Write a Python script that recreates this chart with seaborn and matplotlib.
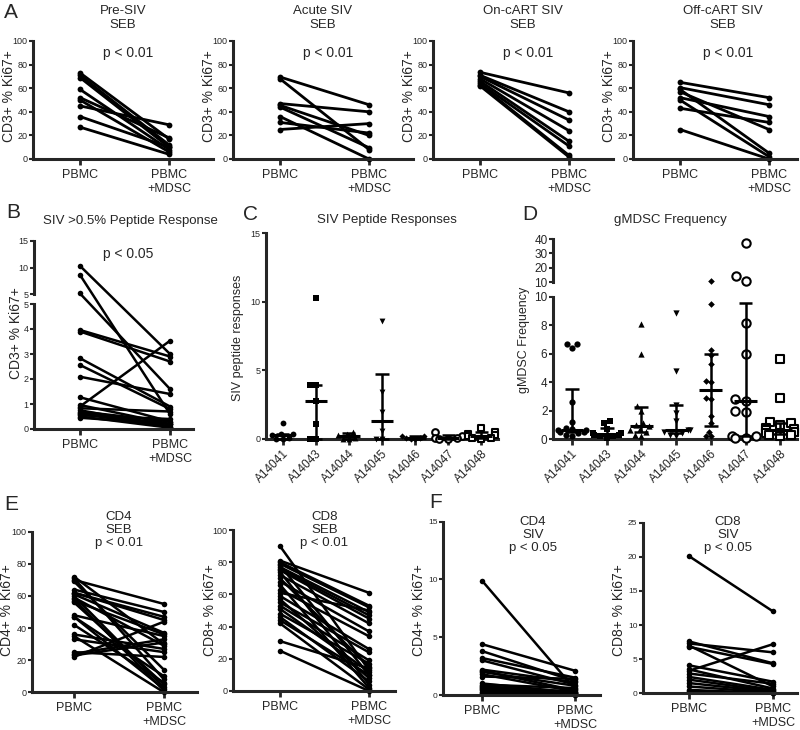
import numpy as np
import pandas as pd
import matplotlib
matplotlib.use("Agg")
import matplotlib.pyplot as plt
import seaborn as sns

# ---------------- data ----------------
cond_labels = ["PBMC", "PBMC\n+MDSC"]

pre_pbmc = [73, 71, 69, 59, 52, 50, 45, 36, 27]
pre_mdsc = [17, 12, 10, 8, 18, 6, 29, 10, 4]
acute_pbmc = [69.5, 68, 47, 45.5, 44, 36, 31, 25]
acute_mdsc = [46, 8, 40, 20, 9.6, 0, 22, 30]
oncart_pbmc = [73.5, 71, 70, 68, 66, 64, 63, 62]
oncart_mdsc = [56, 40, 33, 24, 15, 11, 3, 1.7]
offcart_pbmc = [65, 60.5, 59, 57, 52, 50, 43, 25]
offcart_mdsc = [52, 46, 5, 25, 36, 2, 31, 0]

b_pbmc = [10.3, 8.6, 5.1, 3.96, 3.9, 2.83, 2.56, 2.09, 1.27, 0.96, 0.9, 0.83, 0.75, 0.7, 0.65, 0.6, 0.55, 0.5, 0.45]
b_mdsc = [3.0, 0.6, 1.6, 2.9, 2.7, 0.9, 0.8, 1.4, 0.3, 0.2, 3.53, 0.7, 0.1, 0.3, 0.2, 0.1, 0.4, 0.05, 0.2]

animals = ["A14041", "A14043", "A14044", "A14045", "A14046", "A14047", "A14048"]
animal_markers = ["o", "s", "^", "v", "D", "o", "s"]
animal_sizes = [1.0, 1.0, 1.0, 1.0, 0.75, 1.0, 1.0]
animal_open = [False, False, False, False, False, True, True]

c_A14041 = [1.2, 0.4, 0.4, 0.3, 0.1, 0, 0]
c_A14043 = [10.3, 3.9, 3.9, 2.8, 1.1, 0, 0]
c_A14044 = [0.5, 0.4, 0.3, 0.1, 0, 0]
c_A14045 = [8.6, 3.45, 2.0, 0.6, 0, 0]
c_A14046 = [0.2, 0.2, 0.1, 0.1, 0, 0]
c_A14047 = [0.5, 0.2, 0.1, 0.1, 0, 0]
c_A14048 = [0.8, 0.5, 0.4, 0.3, 0.2, 0.1, 0.1, 0]

d_A14041 = [6.7, 6.4, 6.7, 2.6, 1.2, 0.8, 0.7, 0.6, 0.6, 0.5, 0.5, 0.4, 0.3, 0.2]
d_A14043 = [1.1, 1.3, 0.7, 0.4, 0.4, 0.3, 0.3, 0.2, 0.2, 0.1]
d_A14044 = [8.1, 6.0, 2.3, 2.0, 1.1, 1.0, 0.9, 0.7, 0.6, 0.5, 0.3, 0.2]
d_A14045 = [8.9, 4.8, 2.4, 1.8, 1.3, 0.6, 0.6, 0.5, 0.4, 0.3, 0.2]
d_A14046 = [11, 9.5, 6.3, 5.9, 5.3, 4.1, 4.0, 2.9, 2.8, 1.6, 1.1, 0.5, 0.2, 0.2]
d_A14047 = [37, 14, 11, 8.2, 6.0, 2.8, 2.7, 2.0, 1.9, 0.2, 0.2, 0.1, 0.1]
d_A14048 = [5.6, 2.9, 1.2, 1.1, 1.0, 0.8, 0.7, 0.6, 0.5, 0.5, 0.4, 0.3, 0.3, 0.2]

e_cd4_pbmc = [72, 71, 70, 69, 64, 62, 62, 61, 60, 59, 58, 57, 56, 48, 47, 47, 42, 36, 35, 33, 25, 24, 23, 22]
e_cd4_mdsc = [30, 8, 55, 14, 50, 47, 45, 37, 3, 29, 1, 36, 5, 35, 2, 10, 6, 27, 0, 25, 22, 33, 31, 44]
e_cd8_pbmc = [90, 81, 80, 79, 78, 77, 76, 74, 72, 70, 68, 66, 63, 61, 59, 57, 55, 53, 51, 48, 46, 44, 42, 31, 25, 75]
e_cd8_mdsc = [13, 61, 53, 52, 10, 49, 47, 4, 42, 15, 37, 2, 34, 50, 26, 8, 24, 19, 12, 17, 6, 10, 1, 14, 0, 45]

f_cd4_pbmc = [9.9, 4.4, 3.8, 3.2, 3.0, 2.2, 2.1, 2.0, 1.8, 1.6, 1.0, 0.9, 0.8, 0.7, 0.6, 0.5, 0.4, 0.3, 0.2, 0.1]
f_cd4_mdsc = [0.5, 2.1, 1.2, 1.5, 0.9, 1.1, 0.4, 0.8, 0.3, 1.4, 0.2, 0.6, 0.1, 0.3, 0.1, 0.2, 0.0, 0.1, 0.0, 0.05]
f_cd8_pbmc = [20.1, 7.6, 7.3, 7.0, 6.8, 3.3, 4.1, 3.5, 2.9, 2.4, 2.0, 1.5, 1.0, 0.5, 0.3]
f_cd8_mdsc = [12.0, 4.4, 6.0, 1.0, 4.3, 7.2, 1.7, 0.7, 1.4, 0.5, 0.3, 0.2, 0.1, 0.0, 0.1]

# ---------------- style ----------------
sns.set_style("ticks")
plt.rcParams["font.family"] = ["Liberation Sans", "DejaVu Sans"]

W, H = 800, 730
fig = plt.figure(figsize=(8, 7.3), dpi=100)


def add_ax(left, top, right, bottom):
    return fig.add_axes([left / W, 1 - bottom / H, (right - left) / W, (bottom - top) / H])


def ftext(x, y, s, **kw):
    kw.setdefault("ha", "center")
    kw.setdefault("va", "center")
    fig.text(x / W, 1 - y / H, s, **kw)


def style(ax):
    for s in ["top", "right"]:
        ax.spines[s].set_visible(False)
    for s in ["left", "bottom"]:
        ax.spines[s].set_linewidth(2.2)
    ax.tick_params(axis="y", length=3, width=1.5, labelsize=6.5, pad=1)
    ax.tick_params(axis="x", length=4, width=2, labelsize=9, pad=3)
    ax.patch.set_alpha(0)


def cat_x(ax, left, right, first, spacing):
    a = -(first - left) / spacing
    ax.set_xlim(a, a + (right - left) / spacing)


def paired(ax, pre, post, lw=2.0, ms=4.2):
    n = len(pre)
    df = pd.DataFrame({"pair": list(range(n)) * 2,
                       "cond": [0] * n + [1] * n,
                       "val": list(pre) + list(post)})
    sns.lineplot(data=df, x="cond", y="val", units="pair", estimator=None,
                 color="black", linewidth=lw, marker="o", markersize=ms,
                 markeredgewidth=0, ax=ax, legend=False)
    for l in ax.lines:
        l.set_clip_on(False)
    ax.set_xticks([0, 1], cond_labels)
    ax.set_xlabel("")
    ax.set_ylabel("")
    style(ax)


# ---------------- panel A ----------------
A_sets = [("Pre-SIV\nSEB", pre_pbmc, pre_mdsc),
          ("Acute SIV\nSEB", acute_pbmc, acute_mdsc),
          ("On-cART SIV\nSEB", oncart_pbmc, oncart_mdsc),
          ("Off-cART SIV\nSEB", offcart_pbmc, offcart_mdsc)]
for i, (title, pre, post) in enumerate(A_sets):
    L = 33 + 200 * i
    R = min(L + 180, 797)
    ax = add_ax(L, 41, R, 159)
    paired(ax, pre, post)
    ax.set_ylim(0, 100)
    ax.set_yticks(range(0, 101, 20))
    cat_x(ax, L, R, L + 47, 89)
    ftext(L + 90, 18, title, fontsize=9.5, linespacing=1.25)
    ftext(L + 95, 53, "p < 0.01", fontsize=10)
    ftext(L - 24, 96, "CD3+ % Ki67+", fontsize=10, rotation=90)
ftext(11, 12, "A", fontsize=15)

# ---------------- panel B (broken axis) ----------------
def b_fwd(v):
    v = np.asarray(v, dtype=float)
    return np.where(v <= 5, v, 5.4 + (v - 5) * 0.212)


def b_inv(y):
    y = np.asarray(y, dtype=float)
    return np.where(y <= 5, y, np.where(y < 5.4, 5.0, 5 + (y - 5.4) / 0.212))


axB = add_ax(34, 241, 193, 429)
axB.set_yscale("function", functions=(b_fwd, b_inv))
paired(axB, b_pbmc, b_mdsc, lw=1.8, ms=4)
axB.set_ylim(0, 15)
axB.set_yticks([0, 1, 2, 3, 4, 5], ["0", "1", "2", "3", "4", "5"])
axB.yaxis.set_minor_locator(matplotlib.ticker.NullLocator())
axB.spines["left"].set_bounds(0, 5)
cat_x(axB, 34, 193, 80, 90)
axBu = add_ax(34, 241, 193, 294)
axBu.set_ylim(5, 15)
axBu.set_yticks([5, 10, 15])
style(axBu)
axBu.spines["bottom"].set_visible(False)
axBu.set_xticks([])
ftext(130, 221, "SIV >0.5% Peptide Response", fontsize=9.5)
ftext(128, 254, "p < 0.05", fontsize=10)
ftext(16, 333, "CD3+ % Ki67+", fontsize=10, rotation=90)
ftext(13, 213, "B", fontsize=15)


# ---------------- scatter helpers ----------------
def scatter_panel(ax, groups, size_f, size_o):
    for i, vals in enumerate(groups):
        mk = animal_markers[i]
        if animal_open[i]:
            sns.swarmplot(x=np.full(len(vals), i), y=vals, native_scale=True,
                          marker=mk, size=size_o * animal_sizes[i], color="white",
                          edgecolor="black", linewidth=1.5, ax=ax, warn_thresh=1.0)
        else:
            sns.swarmplot(x=np.full(len(vals), i), y=vals, native_scale=True,
                          marker=mk, size=size_f * animal_sizes[i], color="black",
                          linewidth=0, ax=ax, warn_thresh=1.0)
        q1, med, q3 = np.percentile(vals, [25, 50, 75], method="weibull")
        ax.vlines(i, q1, q3, color="black", lw=1.8, zorder=5)
        ax.hlines([q1, q3], i - 0.2, i + 0.2, color="black", lw=1.8, zorder=5)
        ax.hlines(med, i - 0.33, i + 0.33, color="black", lw=2.2, zorder=5)
    for c in ax.collections:
        c.set_clip_on(False)
    ax.set_xticks(range(len(animals)))
    ax.set_xticklabels(animals, rotation=45, ha="right", rotation_mode="anchor", fontsize=8.5)
    ax.set_xlabel("")
    ax.set_ylabel("")


# ---------------- panel C ----------------
axC = add_ax(266, 233, 498, 439)
c_groups = [c_A14041, c_A14043, c_A14044, c_A14045, c_A14046, c_A14047, c_A14048]
scatter_panel(axC, c_groups, 4.2, 4.8)
style(axC)
axC.tick_params(axis="x", labelsize=8.5, pad=2)
axC.set_ylim(0, 15)
axC.set_yticks([0, 5, 10, 15])
axC.set_xlim(-0.5, 6.5)
ftext(387, 220, "SIV Peptide Responses", fontsize=9.5)
ftext(238, 338, "SIV peptide responses", fontsize=9, rotation=90)
ftext(250, 215, "C", fontsize=15)


# ---------------- panel D (broken axis) ----------------
D_gap = 15 / 14.2
D_k = 1.433 / 14.2


def d_fwd(v):
    v = np.asarray(v, dtype=float)
    return np.where(v <= 10, v, 10 + D_gap + (v - 10) * D_k)


def d_inv(y):
    y = np.asarray(y, dtype=float)
    return np.where(y <= 10, y, np.where(y < 10 + D_gap, 10.0, 10 + (y - 10 - D_gap) / D_k))


axD = add_ax(553, 239, 797, 439)
axD.set_yscale("function", functions=(d_fwd, d_inv))
axD.set_ylim(0, 40)
d_groups = [d_A14041, d_A14043, d_A14044, d_A14045, d_A14046, d_A14047, d_A14048]
scatter_panel(axD, d_groups, 4.5, 6.0)
style(axD)
axD.tick_params(axis="x", labelsize=8.5, pad=2)
axD.tick_params(axis="y", labelsize=8.5)
axD.set_ylim(0, 40)
axD.set_yticks([0, 2, 4, 6, 8, 10])
axD.yaxis.set_minor_locator(matplotlib.ticker.NullLocator())
axD.spines["left"].set_bounds(0, 10)
cat_x(axD, 553, 797, 572, 34.7)
axDu = add_ax(553, 239, 797, 282)
axDu.set_ylim(10, 40)
axDu.set_yticks([10, 20, 30, 40])
style(axDu)
axDu.tick_params(axis="y", labelsize=8.5)
axDu.spines["bottom"].set_visible(False)
axDu.set_xticks([])
ftext(670, 220, "gMDSC Frequency", fontsize=9.5)
ftext(524, 340, "gMDSC Frequency", fontsize=9, rotation=90)
ftext(530, 215, "D", fontsize=15)

# ---------------- panel E ----------------
E_sets = [(32, 197, 74, 90, 531.7, 692.3, "CD4\nSEB\np < 0.01", e_cd4_pbmc, e_cd4_mdsc, "CD4+ % Ki67+", 7),
          (233, 395, 280, 89, 530, 691, "CD8\nSEB\np < 0.01", e_cd8_pbmc, e_cd8_mdsc, "CD8+ % Ki67+", 210)]
for (L, R, first, sp, top, bot, title, pre, post, yl, ylx) in E_sets:
    ax = add_ax(L, top, R, bot)
    paired(ax, pre, post, lw=1.8, ms=4)
    ax.set_ylim(0, 100)
    ax.set_yticks(range(0, 101, 20))
    cat_x(ax, L, R, first, sp)
    ftext((first + first + sp) / 2, 530, title, fontsize=9.5, linespacing=1.15)
    ftext(ylx, 610, yl, fontsize=10, rotation=90)
ftext(11, 505, "E", fontsize=15)

# ---------------- panel F ----------------
F_sets = [(443, 600, 482, 93, 521.7, 695, 15, [0, 5, 10, 15], "CD4\nSIV\np < 0.05", f_cd4_pbmc, f_cd4_mdsc, "CD4+ % Ki67+", 419, 533),
          (643, 797, 689, 84, 522.7, 693.3, 25, [0, 5, 10, 15, 20, 25], "CD8\nSIV\np < 0.05", f_cd8_pbmc, f_cd8_mdsc, "CD8+ % Ki67+", 619, 728)]
for (L, R, first, sp, top, bot, ymax, yt, title, pre, post, yl, ylx, tx) in F_sets:
    ax = add_ax(L, top, R, bot)
    paired(ax, pre, post, lw=1.8, ms=4)
    ax.set_ylim(0, ymax)
    ax.set_yticks(yt)
    ax.tick_params(axis="y", labelsize=6)
    cat_x(ax, L, R, first, sp)
    ftext(tx, 535, title, fontsize=9.5, linespacing=1.15)
    ftext(ylx, 610, yl, fontsize=10, rotation=90)
ftext(436, 503, "F", fontsize=15)

fig.savefig("out.png", dpi=100)
